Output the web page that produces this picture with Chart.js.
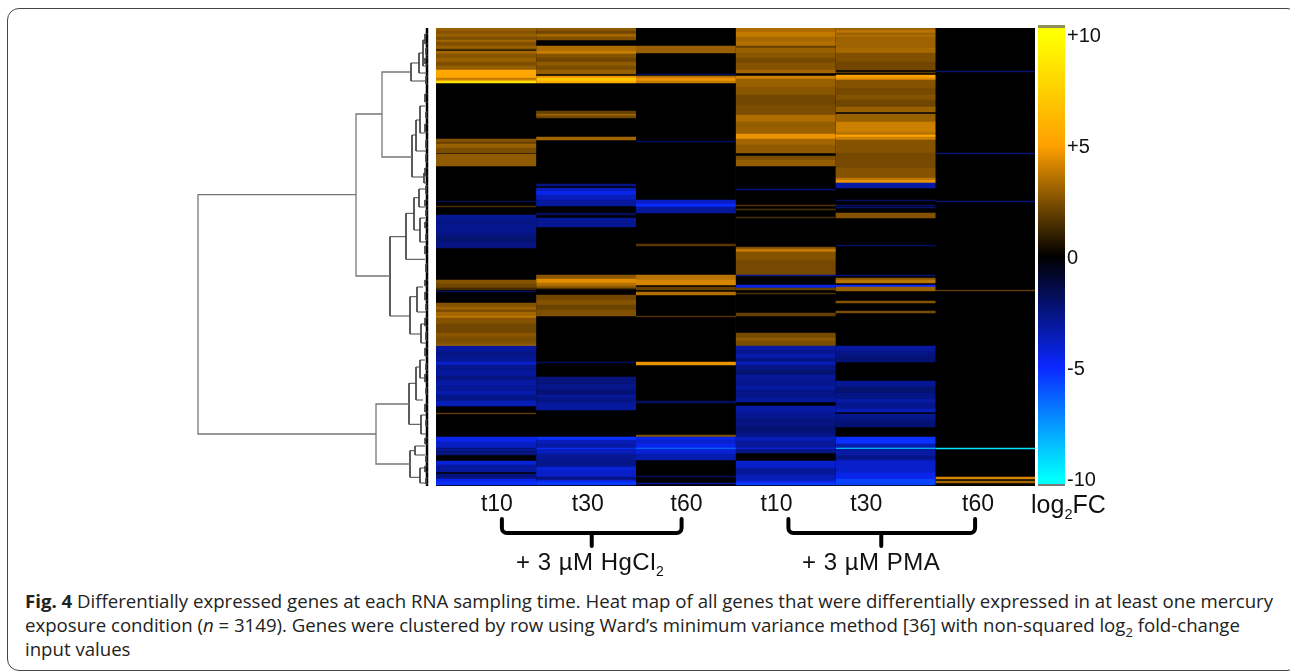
<!DOCTYPE html>
<html>
<head>
<meta charset="utf-8">
<script src="https://cdn.jsdelivr.net/npm/chart.js@4"></script>
<style>
html, body { margin: 0; padding: 0; background: #fff; overflow: hidden; width: 1290px; height: 672px; }
canvas { position: absolute; }
#card { position: absolute; left: 7px; top: 8px; width: 1290px; height: 661px; border: 1px solid #444; border-radius: 12px; }
.lab { position: absolute; font-family: "Liberation Sans", Arial, sans-serif; color: #111; white-space: nowrap; }
.lab sub { font-size: 58%; line-height: 0; }
.cap { position: absolute; left: 25px; font-family: "Open Sans", sans-serif; font-size: 18.5px; line-height: 24px; color: #222; white-space: nowrap; transform-origin: 0 0; }
</style>
</head>
<body>
<div id="card"></div>
<canvas id="dendro" width="240" height="458" style="left:190px;top:28px"></canvas>
<canvas id="heat" width="599" height="530" style="left:436px;top:28px"></canvas>
<canvas id="bar" width="80" height="461" style="left:1038px;top:25px"></canvas>
<div class="lab" style="left:516px;top:548px;font-size:24px;letter-spacing:0.5px">+ 3 µM HgCl<sub>2</sub></div>
<div class="lab" style="left:802px;top:548px;font-size:24px;letter-spacing:0.5px">+ 3 µM PMA</div>
<div class="lab" style="left:1031px;top:490px;font-size:25px">log<sub>2</sub>FC</div>
<div class="cap" id="c1" style="top:589px"><b>Fig. 4</b> Differentially expressed genes at each RNA sampling time. Heat map of all genes that were differentially expressed in at least one mercury</div>
<div class="cap" id="c2" style="top:613px">exposure condition (<i>n</i> = 3149). Genes were clustered by row using Ward’s minimum variance method [36] with non-squared log<sub style="font-size:70%;line-height:0">2</sub> fold-change</div>
<div class="cap" id="c3" style="top:637px">input values</div>
<script>
const columns = ['Hg t10', 'Hg t30', 'Hg t60', 'PMA t10', 'PMA t30', 'PMA t60'];
const tickLabels = ['t10', 't30', 't60', 't10', 't30', 't60'];
const tickPositions = [0.61, 1.52, 2.51, 3.41, 4.31, 5.43];
const rowBins = 458;

// each segment: [first row bin, last row bin, log2FC]
const hgT10 = [[0,458,0],
  [0,3,3.0],[3,6,2.6],[6,9,3.0],[9,12,2.4],[12,14,3.2],[14,18,2.5],[18,21,3.0],[21,22,1.5],
  [23,26,3.2],[26,30,2.6],[30,34,3.0],[34,38,2.5],[38,42,2.9],[42,50,5.3],[50,52,3.8],[52,53,4.5],[53,55,8.5],
  [111,114,2.6],[114,116,2.0],[116,120,3.0],[120,125,2.4],[126,138,2.8],
  [173,174,-1.6],[178,179,1.4],
  [187,192,-2.9],[192,197,-2.6],[197,205,-2.8],[205,209,-2.5],[209,214,-2.2],[214,220,-2.5],
  [252,256,2.6],[256,260,2.2],[260,262,1.3],[263,264,-1.8],
  [275,279,2.6],[279,282,3.1],[282,284,2.3],[284,288,3.2],[288,290,3.7],[290,296,2.6],[296,305,2.2],[305,309,2.7],[309,314,2.4],[314,317,2.6],[317,318,3.4],
  [318,324,-3.0],[324,328,-2.6],[328,334,-2.9],[334,337,-4.0],[337,343,-2.8],[343,348,-3.1],[348,352,-2.5],[352,358,-3.2],[358,363,-2.9],[363,367,-3.4],[367,373,-2.7],[373,378,-3.6],
  [385,386,1.8],
  [409,414,-4.6],[414,420,-3.8],[420,421,-2.0],[421,423,-3.0],[423,427,-2.4],
  [433,437,-4.2],[437,444,-3.1],[446,451,-2.5],[451,454,-4.6],[454,457,-5.2]];
const hgT30 = [[0,458,0],
  [0,3,2.8],[3,6,2.2],[6,9,3.2],[9,12,2.5],
  [18,23,3.4],[23,26,3.9],[26,30,2.6],[30,34,2.2],[34,38,2.8],[38,42,2.4],[42,46,3.0],
  [48,50,4.6],[50,53,7.0],[53,55,5.6],
  [83,86,2.0],[86,88,3.0],[88,90,2.2],[109,112,3.2],[156,158,-2.6],
  [160,163,-3.6],[163,167,-4.6],[167,172,-3.7],[172,178,-3.1],[185,187,-1.8],[190,199,-2.9],
  [247,251,2.7],[251,255,4.4],[255,258,3.5],[258,260,2.8],[260,261,1.5],
  [267,272,2.2],[272,277,2.6],[277,282,2.1],[282,288,2.5],
  [334,335,-1.8],[349,356,-2.4],[356,362,-2.7],[362,367,-2.3],[367,370,-3.0],[370,375,-2.6],[375,382,-3.1],
  [409,412,-5.2],[412,416,-3.6],[416,420,-3.2],[420,421,-5.4],[421,426,-3.7],[426,432,-2.9],[432,439,-2.7],[439,443,-4.2],[443,449,-3.9],[449,452,-2.5],[452,454,-4.4],[454,457,-5.4]];
const hgT60 = [[0,458,0],
  [18,25,3.0],[46,47,-1.8],[48,50,3.6],[50,53,4.6],[53,55,3.9],[113,114,-1.8],
  [172,176,-3.8],[176,179,-5.0],[179,185,-3.0],[216,218,1.7],
  [247,252,3.6],[252,257,4.2],[259,262,2.0],[264,267,3.5],[288,289,1.6],
  [334,337,4.6],[373,375,-1.9],[407,409,2.6],
  [409,412,-4.5],[412,416,-4.1],[416,420,-4.6],[420,421,-6.8],[421,426,-4.2],[426,432,-3.4],
  [448,449,-1.8],[455,456,-3.0]];
const pmaT10 = [[0,458,0],
  [0,4,3.4],[4,9,3.8],[9,14,3.3],[14,18,3.5],[18,20,2.0],[20,25,3.0],[25,30,2.7],[30,35,2.3],[35,42,2.6],[42,45,3.2],
  [48,51,4.0],[51,59,3.0],[59,67,2.7],[67,77,2.2],[77,87,2.4],[87,94,3.4],[94,99,2.9],[99,106,3.0],[106,111,4.6],[111,117,3.2],[117,125,2.8],
  [128,132,2.4],[132,138,2.9],
  [161,162,-2.4],[177,178,1.6],[181,182,1.5],[189,190,1.4],
  [219,221,2.4],[221,224,3.8],[224,232,2.6],[232,247,2.3],[247,248,-2.8],[257,260,-4.4],[260,262,2.0],[265,266,1.6],[285,288,2.0],
  [305,310,2.3],[310,313,2.8],[313,318,2.4],
  [318,322,-3.2],[322,326,-2.8],[326,330,-3.4],[330,334,-2.6],[334,337,-3.6],[337,342,-2.6],[342,347,-2.2],[347,351,-3.0],[351,358,-2.8],[358,362,-3.2],[362,369,-2.6],[369,374,-3.0],
  [378,384,-3.3],[384,390,-2.9],[390,398,-2.5],[398,405,-2.3],[405,409,-2.6],[409,413,-3.6],[413,420,-3.0],[420,421,-4.8],[421,425,-2.6],
  [433,440,-4.0],[440,447,-3.0],[447,453,-3.6],[453,455,-4.6],[455,457,-5.5]];
const pmaT30 = [[0,458,0],
  [0,2,3.0],[2,5,3.6],[5,7,3.0],[7,9,3.4],[9,20,3.1],[20,25,3.3],[25,34,2.5],[34,42,2.2],[44,45,1.8],
  [47,50,5.0],[50,52,4.4],[52,60,2.6],[60,67,2.3],[67,72,2.6],[72,79,2.2],[79,84,3.0],
  [86,94,3.0],[94,104,4.0],[104,107,3.6],[107,109,5.2],[109,112,4.0],[112,125,2.6],[125,140,2.3],[140,150,2.6],[150,152,3.6],[152,155,4.5],[155,160,-3.2],
  [172,173,-1.9],[177,178,-1.9],[179,180,-2.2],[185,190,2.6],[217,218,-1.9],[247,248,-2.4],
  [250,252,2.8],[252,255,3.6],[257,259,-5.0],[259,263,3.0],[273,275,2.6],[283,285,2.4],
  [318,323,-3.1],[323,328,-2.6],[328,334,-2.3],
  [353,359,-2.9],[359,365,-2.2],[365,371,-2.6],[371,375,-3.2],[375,381,-2.8],[381,384,-3.6],
  [386,392,-2.7],[392,399,-2.3],
  [409,416,-5.2],[416,420,-3.4],[420,421,-9.4],[421,428,-3.2],[428,432,-2.6],[432,434,-3.8],[434,445,-4.0],[445,451,-4.6],[451,457,-5.6]];
const pmaT60 = [[0,458,0],
  [43,44,-2.2],[125,126,-2.2],[173,174,-2.2],[262,263,1.8],[420,421,-9.4],[449,451,4.2],[453,455,3.2]];
const heatColumns = [hgT10, hgT30, hgT60, pmaT10, pmaT30, pmaT60];

// colour key of the heat map: [log2FC, rgb]
const colorStops = [[-10,[0,255,255]],[-5,[10,40,255]],[0,[0,0,0]],[5,[255,160,0]],[10,[255,255,0]]];
const keyTicks = [-10, -5, 0, 5, 10];

// dendrogram merges: [height, row of upper child, row of lower child, upper child height, lower child height]
const merges = [
  [230,166.7,406,72,52],[72,86,248,46,38],[46,44,129,17,16],[17,35,53,9,1],[9,25,45,5,1],[5,12,38,2,1],
  [16,107,149,12,4],[12,92,123,8,2],[8,78,105,3,3],[4,145,155,1,1],
  [38,208.7,288,22,18],[22,185.3,231.3,14,3],[14,169.7,202,9,8],[9,161,179,3,3],[8,190,214,3,2],
  [18,268.7,306,11,7],[11,259,284,5,2],[7,296,315,2,2],
  [52,376,436,19,18],[19,355.3,396.3,12,7],[12,339,372,8,5],[8,332,350,3,2],[7,387,406,2,2],
  [18,422.7,449.3,13,8],[13,418,427,3,3],[8,440,455,3,2],
  [3,6,16,0,0],[2,20,27,0,0],[3,30,36,0,0],[2,48,56,0,0],[3,66,74,0,0],[2,84,90,0,0],[3,96,104,0,0],[2,112,120,0,0],[2,126,134,0,0],
  [3,140,148,0,0],[2,158,166,0,0],[3,172,178,0,0],[2,182,188,0,0],[3,194,200,0,0],[2,206,212,0,0],[3,218,226,0,0],[2,236,244,0,0],
  [3,252,258,0,0],[3,264,272,0,0],[2,276,282,0,0],[3,290,298,0,0],[2,304,312,0,0],[3,320,328,0,0],[2,336,342,0,0],[3,346,354,0,0],
  [2,360,366,0,0],[3,376,384,0,0],[2,392,398,0,0],[3,410,416,0,0],[2,428,434,0,0],[3,438,444,0,0],[2,450,456,0,0]];
const leafEdge = [[1,0],[1,458]];

// bracket under the time labels, in column units: [left, right, stem]
const brackets = [[0.66,2.46,1.56],[3.53,5.40,4.46]];

function heatColor(v) {
  for (let i = 0; i < colorStops.length - 1; i++) {
    const a = colorStops[i], b = colorStops[i + 1];
    if (v <= b[0]) {
      const t = Math.max(0, (v - a[0]) / (b[0] - a[0]));
      const c = a[1].map((q, k) => Math.round(q + (b[1][k] - q) * t));
      return 'rgb(' + c.join(',') + ')';
    }
  }
  return 'rgb(255,255,0)';
}

Chart.defaults.animation = false;
Chart.defaults.responsive = false;
Chart.defaults.plugins.legend.display = false;
Chart.defaults.plugins.tooltip.enabled = false;

const bracketPlugin = {
  id: 'brackets',
  afterDraw(chart) {
    const c = chart.ctx, s = chart.scales.labelAxis, b = chart.chartArea.bottom;
    c.save();
    c.strokeStyle = '#000';
    c.lineWidth = 4;
    c.lineCap = 'round';
    brackets.forEach(br => {
      const l = s.getPixelForValue(br[0]), r = s.getPixelForValue(br[1]), m = s.getPixelForValue(br[2]);
      c.beginPath();
      c.moveTo(l, b + 33);
      c.arcTo(l, b + 47, l + 6, b + 47, 5);
      c.lineTo(r - 6, b + 47);
      c.arcTo(r, b + 47, r, b + 33, 5);
      c.lineTo(r, b + 33);
      c.moveTo(m, b + 47);
      c.lineTo(m, b + 60);
      c.stroke();
    });
    c.restore();
  }
};

new Chart(document.getElementById('heat'), {
  type: 'bar',
  plugins: [bracketPlugin],
  data: {
    labels: columns,
    datasets: heatColumns.map((segs, i) => ({
      label: columns[i],
      data: segs.map(s => ({ x: columns[i], y: [s[0], s[1]] })),
      backgroundColor: segs.map(s => heatColor(s[2])),
      borderWidth: 0,
      barPercentage: 1,
      categoryPercentage: 1,
      grouped: false
    }))
  },
  options: {
    layout: { padding: 0 },
    scales: {
      x: { display: false },
      y: { display: false, reverse: true, min: 0, max: rowBins },
      labelAxis: {
        type: 'linear',
        axis: 'x',
        position: 'bottom',
        offset: false,
        min: 0,
        max: 6,
        grid: { display: false, drawTicks: false },
        border: { display: false },
        afterBuildTicks: s => { s.ticks = tickPositions.map(v => ({ value: v })); },
        afterFit: s => { s.height = 72; s.paddingLeft = 0; s.paddingRight = 0; },
        ticks: {
          autoSkip: false,
          maxRotation: 0,
          padding: 5,
          color: '#111',
          font: { family: '"Liberation Sans"', size: 23 },
          callback: (v, i) => tickLabels[i]
        }
      }
    }
  }
});

new Chart(document.getElementById('dendro'), {
  type: 'scatter',
  data: {
    datasets: merges.map(m => ({
      data: [{ x: m[3], y: m[1] }, { x: m[0], y: m[1] }, { x: m[0], y: m[2] }, { x: m[4], y: m[2] }],
      showLine: true,
      borderColor: m[0] > 40 ? '#777' : '#444',
      borderWidth: m[0] > 40 ? 1.3 : 1,
      pointRadius: 0
    })).concat([{
      data: leafEdge.map(p => ({ x: p[0], y: p[1] })),
      showLine: true,
      borderColor: '#000',
      borderWidth: 2.5,
      pointRadius: 0
    }])
  },
  options: {
    layout: { padding: 0 },
    scales: {
      x: { display: false, reverse: true, min: -2, max: 238 },
      y: { display: false, reverse: true, min: 0, max: rowBins }
    }
  }
});

function keyGradient(ctx) {
  const ch = ctx.chart;
  if (!ch.chartArea) return '#000';
  const y = ch.scales.y;
  const g = ch.ctx.createLinearGradient(0, y.getPixelForValue(10), 0, y.getPixelForValue(-10));
  colorStops.slice().reverse().forEach(s => g.addColorStop((10 - s[0]) / 20, 'rgb(' + s[1].join(',') + ')'));
  return g;
}

new Chart(document.getElementById('bar'), {
  type: 'bar',
  data: {
    labels: ['log2FC'],
    datasets: [
      { data: [[-10.25, 10.3]], backgroundColor: keyGradient, borderWidth: 0, barPercentage: 1, categoryPercentage: 1, grouped: false },
      { data: [[10.3, 10.45]], backgroundColor: '#8f8f55', borderWidth: 0, barPercentage: 1, categoryPercentage: 1, grouped: false },
      { data: [[-10.36, -10.25]], backgroundColor: '#7a7a7a', borderWidth: 0, barPercentage: 1, categoryPercentage: 1, grouped: false }
    ]
  },
  options: {
    layout: { padding: 0 },
    scales: {
      x: { display: false },
      y: {
        position: 'right',
        min: -10.36,
        max: 10.45,
        grid: { display: false, drawTicks: false },
        border: { display: false },
        afterBuildTicks: s => { s.ticks = keyTicks.map(v => ({ value: v })); },
        afterFit: s => { s.width = 53; s.paddingTop = 0; s.paddingBottom = 0; },
        ticks: {
          padding: 2,
          labelOffset: 2,
          color: '#111',
          font: { family: '"Liberation Sans"', size: 20 },
          callback: v => (v > 0 ? '+' + v : String(v))
        }
      }
    }
  }
});

// squeeze the caption lines to the narrow width of the journal face
const squeeze = 1248 / document.getElementById('c1').offsetWidth;
['c1', 'c2', 'c3'].forEach(id => {
  document.getElementById(id).style.transform = 'scaleX(' + squeeze + ')';
});
</script>
</body>
</html>
